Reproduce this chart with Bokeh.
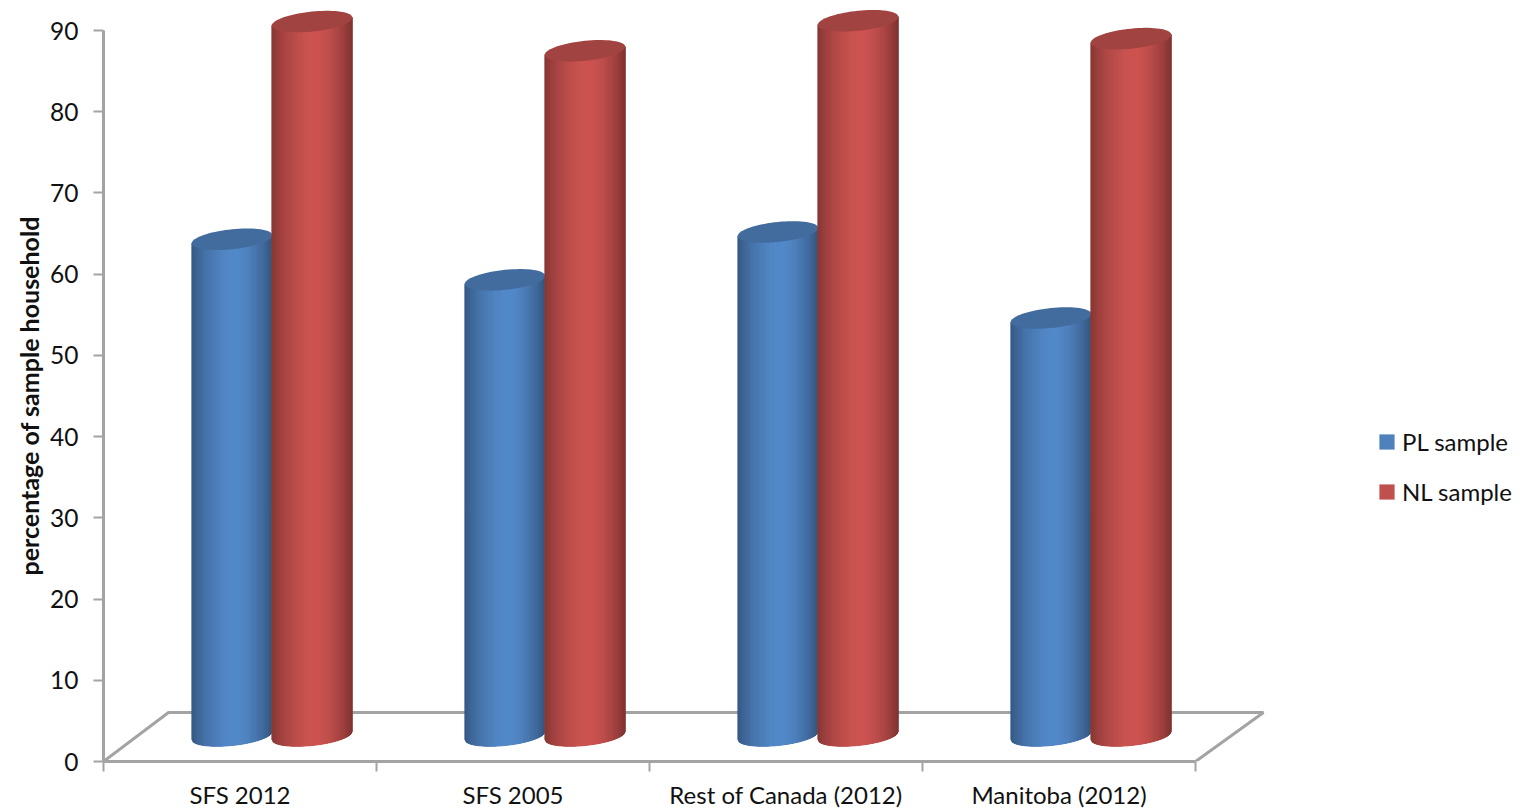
from bokeh.embed import file_html
from bokeh.models import ColumnDataSource, FixedTicker, Legend, LegendItem, Range1d, Title
from bokeh.plotting import figure
from bokeh.resources import INLINE
import numpy as np

# Survey results: share of households, by sample and data source
categories = ["SFS 2012", "SFS 2005", "Rest of Canada (2012)", "Manitoba (2012)"]
pl_sample = [61.1, 56.1, 62.0, 51.4]
nl_sample = [87.9, 84.3, 88.0, 85.8]
y_ticks = [0, 10, 20, 30, 40, 50, 60, 70, 80, 90]
y_title = "percentage of sample household"

WIDTH, HEIGHT = 1529, 811
LEFT, BOTTOM = 103, 50
PX_PER_CATEGORY = 273.0
PX_PER_UNIT = 8.122

FONT = "Lato"
AXIS_GREY = "#A3A3A3"
TEXT = "#111111"

# Cylinder geometry, in axis units
BAR_W = 80.5 / PX_PER_CATEGORY
OFFSETS = {"pl": 128.5 / PX_PER_CATEGORY, "nl": 208.5 / PX_PER_CATEGORY}
DEPTH_Y = 49 / PX_PER_UNIT            # floor depth on the value axis
DEPTH_X_L = 65 / PX_PER_CATEGORY
DEPTH_X_R = 68 / PX_PER_CATEGORY
BASE = 26 / PX_PER_UNIT               # cylinders stand mid-way on the floor
CAP_B = 10.0 / PX_PER_UNIT            # semi-minor axis of the end ellipses
CAP_SLOPE = (0.1 * PX_PER_CATEGORY) / PX_PER_UNIT  # tilt of the end ellipses
N_STRIPS = 81

# Horizontal shading across a cylinder: position, brightness factor
SHADE_POS = [0.0, 0.06, 0.2, 0.42, 0.56, 0.72, 0.9, 1.0]
SHADE_VAL = [0.70, 0.78, 0.92, 1.05, 1.07, 1.0, 0.82, 0.66]


def hex_rgb(c):
    return np.array([int(c[i:i + 2], 16) for i in (1, 3, 5)], dtype=float)


def shaded(c, f):
    r, g, b = np.clip(hex_rgb(c) * f, 0, 255).astype(int)
    return f"#{r:02x}{g:02x}{b:02x}"


def front_arc(dx):
    return np.sqrt(np.clip(1 - (2 * dx / BAR_W) ** 2, 0, 1)) * CAP_B


p = figure(
    width=WIDTH, height=HEIGHT, output_backend="svg", toolbar_location=None,
    x_range=Range1d(0, (WIDTH - LEFT) / PX_PER_CATEGORY),
    y_range=Range1d(0, (HEIGHT - BOTTOM) / PX_PER_UNIT),
    min_border_left=LEFT, min_border_bottom=BOTTOM, min_border_top=0, min_border_right=0,
    outline_line_color=None, background_fill_color="white", border_fill_color="white",
)
p.grid.visible = False

# Floor of the plot box
n_cat = len(categories)
p.line([0, DEPTH_X_L, n_cat + DEPTH_X_R, n_cat], [0, DEPTH_Y, DEPTH_Y, 0],
       line_color=AXIS_GREY, line_width=3)

legend_items = []
for key, label, values, base_col, cap_factor in [
    ("pl", "PL sample", pl_sample, "#4F81BD", 0.84),
    ("nl", "NL sample", nl_sample, "#C0504D", 0.84),
]:
    sil_x, sil_y, strip_x, strip_y, strip_c, cap_x, cap_y = [], [], [], [], [], [], []
    edges = np.linspace(-BAR_W / 2, BAR_W / 2, N_STRIPS + 1)
    theta = np.linspace(0, 2 * np.pi, 73)
    for i, v in enumerate(values):
        cx = i + OFFSETS[key]
        top = BASE + v

        # silhouette, carrying the series colour
        arc_dx = np.linspace(-BAR_W / 2, BAR_W / 2, 41)
        sil_x.append(np.r_[cx + arc_dx, cx + arc_dx[::-1]])
        sil_y.append(np.r_[BASE + CAP_SLOPE * arc_dx - front_arc(arc_dx),
                           top + CAP_SLOPE * arc_dx[::-1]])

        # vertical strips give the rounded shading
        for j in range(N_STRIPS):
            a, b = edges[j], edges[min(j + 2, N_STRIPS)]
            pos = (j + 0.5) / N_STRIPS
            m = np.array([a, b])
            strip_x.append(np.r_[cx + m, cx + m[::-1]])
            strip_y.append(np.r_[BASE + CAP_SLOPE * m - front_arc(m),
                                 top + CAP_SLOPE * m[::-1]])
            strip_c.append(shaded(base_col, np.interp(pos, SHADE_POS, SHADE_VAL)))

        # tilted upper end
        ex = BAR_W / 2 * np.cos(theta)
        cap_x.append(cx + ex)
        cap_y.append(top + CAP_SLOPE * ex + CAP_B * np.sin(theta))

    body = p.patches(sil_x, sil_y, fill_color=base_col, line_color=None)
    p.patches(xs="xs", ys="ys", fill_color="c", line_color="c", line_width=0.5,
              source=ColumnDataSource(dict(xs=strip_x, ys=strip_y, c=strip_c)))
    p.patches(cap_x, cap_y, fill_color=shaded(base_col, cap_factor), line_color=None)
    legend_items.append(LegendItem(label=label, renderers=[body]))

# Value axis
ya = p.yaxis[0]
ya.ticker = FixedTicker(ticks=y_ticks)
ya.bounds = (0, 90)
ya.axis_line_color = AXIS_GREY
ya.axis_line_width = 3
ya.major_tick_line_color = AXIS_GREY
ya.major_tick_line_width = 2
ya.major_tick_in = 0
ya.major_tick_out = 10
ya.minor_tick_line_color = None
ya.major_label_standoff = 15
ya.major_label_text_font = FONT
ya.major_label_text_font_size = "24.5px"
ya.major_label_text_color = TEXT

# Axis title, running up from the lower part of the value axis
p.add_layout(Title(
    text=y_title, align="left", offset=186, standoff=7,
    text_font=FONT, text_font_style="bold", text_font_size="25px", text_color=TEXT,
), "left")

# Category axis: labels centred in each slot, ticks on the slot boundaries
xa = p.xaxis[0]
centers = [i + 0.5 for i in range(n_cat)]
xa.ticker = FixedTicker(ticks=centers, minor_ticks=list(range(n_cat + 1)))
xa.major_label_overrides = dict(zip(centers, categories))
xa.bounds = (0, n_cat)
xa.axis_line_color = AXIS_GREY
xa.axis_line_width = 3
xa.major_tick_line_color = None
xa.major_tick_in = 0
xa.major_tick_out = 0
xa.minor_tick_line_color = AXIS_GREY
xa.minor_tick_line_width = 2
xa.minor_tick_in = 0
xa.minor_tick_out = 10
xa.major_label_standoff = 8
xa.major_label_text_font = FONT
xa.major_label_text_font_size = "24px"
xa.major_label_text_color = TEXT

legend = Legend(
    items=legend_items, location=(1274, 255), orientation="vertical",
    glyph_width=19, glyph_height=19, spacing=21, padding=0, margin=0, label_standoff=6,
    label_text_font=FONT, label_text_font_size="24px", label_text_color=TEXT,
    background_fill_alpha=0, border_line_color=None,
)
p.add_layout(legend, "center")

open("out.html", "w").write(file_html(p, INLINE))
